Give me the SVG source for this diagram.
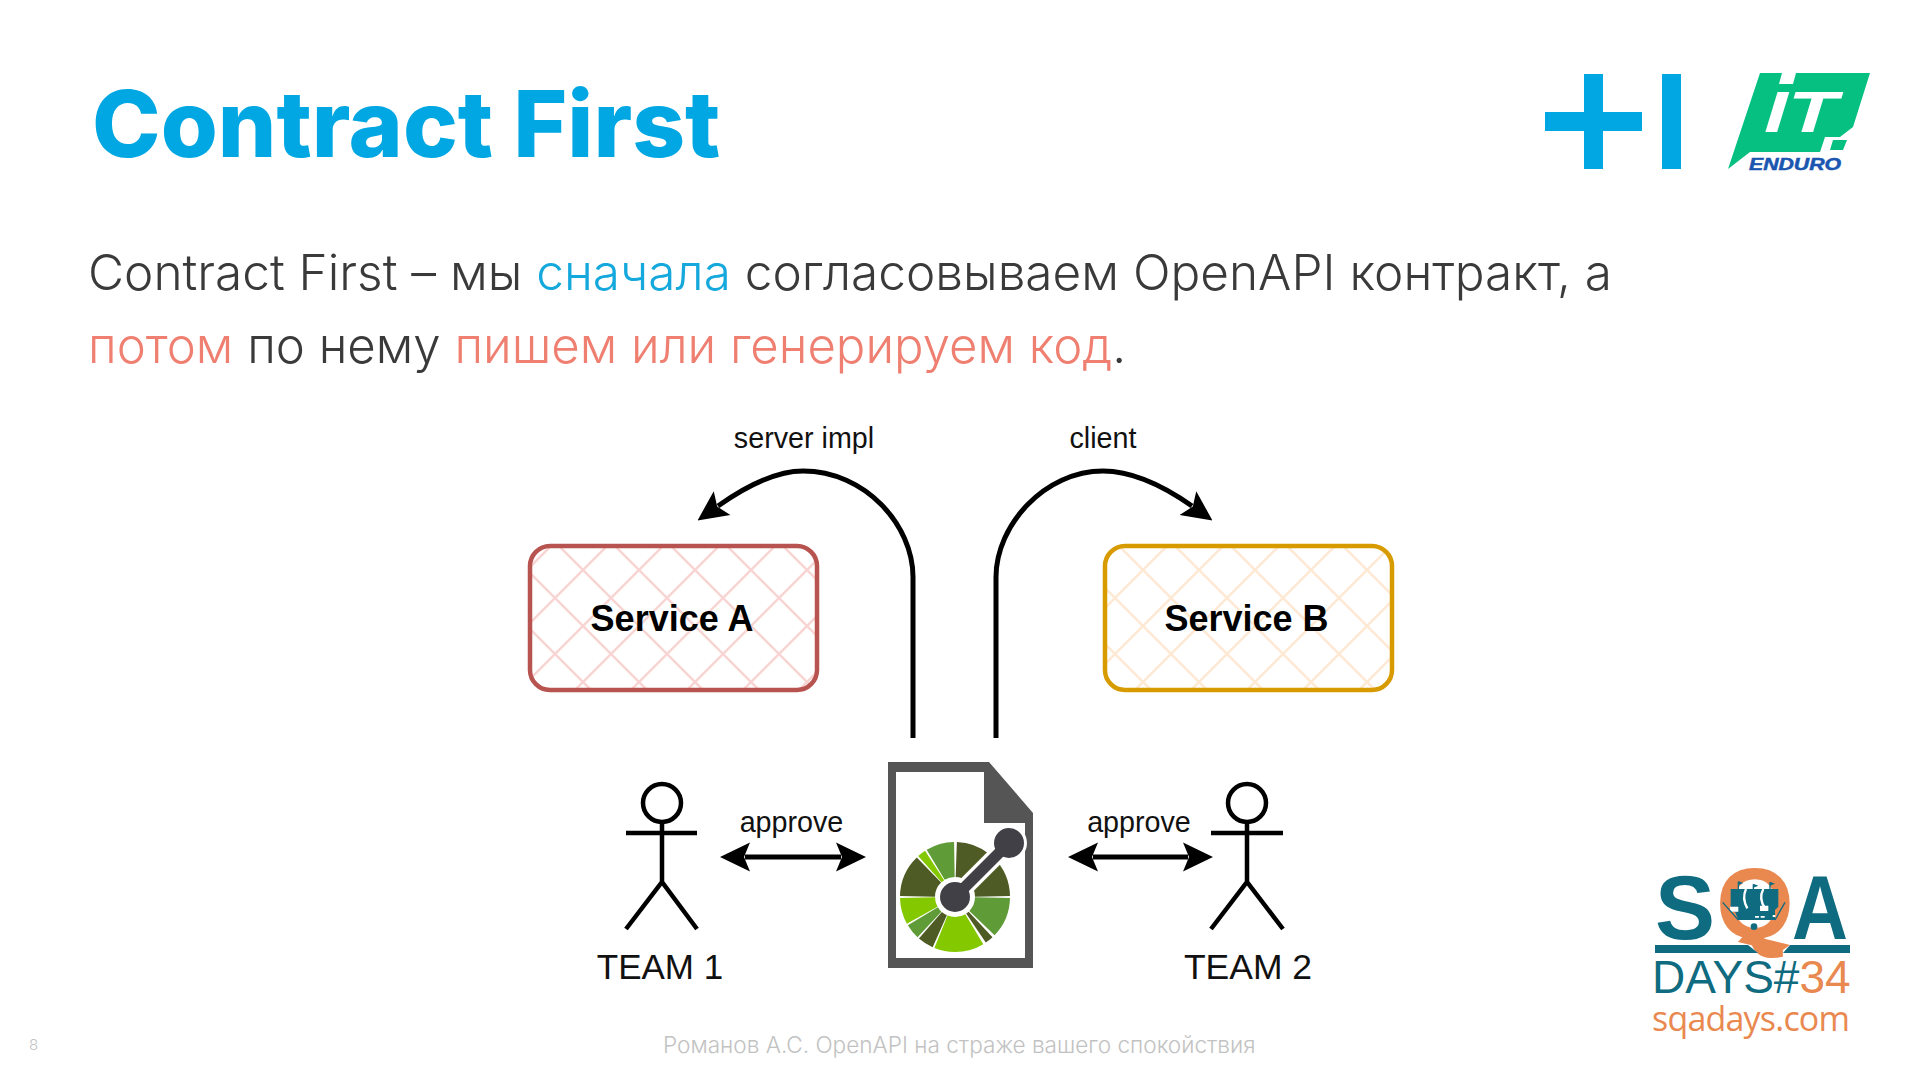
<svg xmlns="http://www.w3.org/2000/svg" width="1920" height="1080" viewBox="0 0 1920 1080">
<style>
.title{font:800 92.3px Inter,"Noto Sans",sans-serif;fill:#00a7e3}
.body{font:300 49.5px Inter,"Noto Sans",sans-serif;fill:#3a3a3a}
.body2{font-size:49.1px}
.blue{fill:#14a8dc}.red{fill:#ef7f70}
.foot{font:300 22.6px Inter,"Noto Sans",sans-serif;fill:#c2c2c2}
.lab{font:400 28.7px "Liberation Sans",Arial,sans-serif;fill:#111;text-anchor:middle}
.team{font:400 35px "Liberation Sans",Arial,sans-serif;fill:#111;text-anchor:middle}
.svc{font:700 36px "Liberation Sans",Arial,sans-serif;fill:#000;text-anchor:middle}
.conn{fill:none;stroke:#000;stroke-width:5}
.person{fill:none;stroke:#000;stroke-width:4.5}
.teal{fill:#0f6b80}.orange{fill:#e98950}
.seg{fill:none;stroke-width:35}
</style>
<defs>
<pattern id="hatchA" patternUnits="userSpaceOnUse" x="583" y="570" width="56" height="56"><path d="M0,0L56,56M56,0L0,56" stroke="#f8d5d3" stroke-width="2.5"/></pattern>
<pattern id="hatchB" patternUnits="userSpaceOnUse" x="1143" y="570" width="56" height="56"><path d="M0,0L56,56M56,0L0,56" stroke="#ffe9d3" stroke-width="2.5"/></pattern>
<marker id="head" markerUnits="userSpaceOnUse" markerWidth="30" markerHeight="30" refX="5" refY="15" orient="auto-start-reverse" viewBox="0 0 30 30"><path d="M30,15L0,0.5L6,15L0,29.5Z" fill="#000"/></marker>
</defs>
<rect width="1920" height="1080" fill="#fff"/>
<text class="title" x="92" y="157">Contract First</text>
<text class="body" x="88" y="290">Contract First – мы <tspan class="blue">сначала</tspan> согласовываем OpenAPI контракт, а</text>
<text class="body body2" x="88" y="363"><tspan class="red">потом</tspan> по нему <tspan class="red">пишем или генерируем код</tspan>.</text>

<g id="logo-plus" fill="#00a7e3"><rect x="1545" y="112" width="97" height="19"/><rect x="1584" y="74" width="19" height="95"/><rect x="1662" y="74" width="19" height="95"/></g>
<g id="logo-enduro">
<path d="M1760,73H1782L1779,84H1793L1796,73H1870L1853,127L1840,137H1825L1820,152H1750L1728,169Z" fill="#05c080"/>
<path d="M1833,140H1847L1843,150H1830Z" fill="#05c080"/>
<text transform="translate(1760,132) skewX(-17)" font-family="Liberation Sans,sans-serif" font-weight="700" font-size="58" fill="#fff" textLength="72" lengthAdjust="spacingAndGlyphs">IT</text>
<text x="1749" y="170" font-family="Liberation Sans,sans-serif" font-weight="700" font-style="italic" font-size="16.5" fill="#1a56b0" stroke="#1a56b0" stroke-width=".5" textLength="92" lengthAdjust="spacingAndGlyphs">ENDURO</text>
</g>

<g id="connectors">
<path class="conn" d="M913,738V577C913,525 865,471 803,471C775,471 745,487 718,506" marker-end="url(#head)"/>
<path class="conn" d="M996,738V577C996,525 1045,471 1103,471C1135,471 1165,487 1192,506" marker-end="url(#head)"/>
<path class="conn" d="M745,857H841" marker-start="url(#head)" marker-end="url(#head)"/>
<path class="conn" d="M1093,857H1188" marker-start="url(#head)" marker-end="url(#head)"/>
<text class="lab" x="804" y="448">server impl</text>
<text class="lab" x="1103" y="448">client</text>
<text class="lab" x="791.5" y="832">approve</text>
<text class="lab" x="1139" y="832">approve</text>
</g>

<g id="service-a"><rect x="530" y="546" width="287" height="144" rx="20" fill="url(#hatchA)" stroke="#b85450" stroke-width="4.5"/><text class="svc" x="672" y="631">Service A</text></g>
<g id="service-b"><rect x="1105" y="546" width="287" height="144" rx="20" fill="url(#hatchB)" stroke="#d79b00" stroke-width="4.5"/><text class="svc" x="1246.5" y="631">Service B</text></g>

<g id="team-1"><circle class="person" cx="662" cy="803" r="19"/><path class="person" d="M662,822V882M626,833H697M626,929L662,882L697,929"/><text class="team" x="660" y="979">TEAM 1</text></g>
<g id="team-2"><circle class="person" cx="1247" cy="803" r="19"/><path class="person" d="M1247,822V882M1211,833H1283M1211,929L1247,882L1283,929"/><text class="team" x="1248" y="979" style="font-size:35.5px">TEAM 2</text></g>

<g id="openapi-doc">
<path d="M888,762H989L1033,813V968H888ZM896,772V958H1025V823H984V772Z" fill="#555" fill-rule="evenodd"/>
<g transform="rotate(-90 955 897)">
<circle class="seg" cx="955" cy="897" r="37.5" pathLength="360" stroke="#4f5b24" stroke-dasharray="37 360" stroke-dashoffset="-2"/>
<circle class="seg" cx="955" cy="897" r="37.5" pathLength="360" stroke="#4f5b24" stroke-dasharray="44 360" stroke-dashoffset="-45"/>
<circle class="seg" cx="955" cy="897" r="37.5" pathLength="360" stroke="#5f9b36" stroke-dasharray="43 360" stroke-dashoffset="-91"/>
<circle class="seg" cx="955" cy="897" r="37.5" pathLength="360" stroke="#4f5b24" stroke-dasharray="9 360" stroke-dashoffset="-137"/>
<circle class="seg" cx="955" cy="897" r="37.5" pathLength="360" stroke="#84c800" stroke-dasharray="53 360" stroke-dashoffset="-149"/>
<circle class="seg" cx="955" cy="897" r="37.5" pathLength="360" stroke="#4f5b24" stroke-dasharray="17 360" stroke-dashoffset="-204"/>
<circle class="seg" cx="955" cy="897" r="37.5" pathLength="360" stroke="#5f9b36" stroke-dasharray="16 360" stroke-dashoffset="-223"/>
<circle class="seg" cx="955" cy="897" r="37.5" pathLength="360" stroke="#84c800" stroke-dasharray="28 360" stroke-dashoffset="-241"/>
<circle class="seg" cx="955" cy="897" r="37.5" pathLength="360" stroke="#4f5b24" stroke-dasharray="45 360" stroke-dashoffset="-271"/>
<circle class="seg" cx="955" cy="897" r="37.5" pathLength="360" stroke="#84c800" stroke-dasharray="9 360" stroke-dashoffset="-318"/>
<circle class="seg" cx="955" cy="897" r="37.5" pathLength="360" stroke="#5f9b36" stroke-dasharray="30 360" stroke-dashoffset="-329"/>
</g>
<path d="M955,897L1009,843" stroke="#fff" stroke-width="18"/>
<circle cx="955" cy="897" r="19" fill="#fff"/><circle cx="1009" cy="843" r="18" fill="#fff"/>
<path d="M955,897L1009,843" stroke="#404046" stroke-width="11"/>
<circle cx="955" cy="897" r="15" fill="#404046"/><circle cx="1009" cy="843" r="15" fill="#404046"/>
</g>

<g id="logo-sqa">
<text class="teal" x="1655" y="939" font-family="Liberation Sans,sans-serif" font-weight="700" font-size="90">S</text>
<text class="orange" x="1716" y="938" font-family="Liberation Sans,sans-serif" font-weight="700" font-size="100">Q</text>
<text class="teal" x="1792" y="939" font-family="Liberation Sans,sans-serif" font-weight="700" font-size="90" textLength="56" lengthAdjust="spacingAndGlyphs">A</text>
<path class="teal" d="M1655,945H1748L1758,953H1655ZM1790,945H1850V953H1783Z"/>
<path class="orange" d="M1745,934L1790,945L1780,952L1738,942Z"/>
<g transform="translate(1710,865) scale(.3333)">
<path class="teal" d="M62,72H205V125L195,135V165H85L75,140H62Z"/>
<path d="M108,72Q95,100 112,130M160,72Q145,100 165,130" fill="none" stroke="#fff" stroke-width="7"/>
<path d="M60,125H85V140H60ZM150,122H175V138H150ZM135,153H147V158H135ZM152,153H164V158H152ZM188,150H196V156H188Z" fill="#fff"/>
<path class="teal" d="M85,50V72M130,58V72M180,52V72M38,112L85,165M225,112L195,165" stroke="#0f6b80" stroke-width="4" fill="none"/>
<path class="teal" d="M85,48L100,54L85,60ZM130,56L145,62L130,68ZM180,50L195,56L180,62Z"/>
<circle class="teal" cx="132" cy="185" r="10"/>
</g>
<text class="teal" x="1652" y="993" font-family="Liberation Sans,sans-serif" font-size="46">DAYS#<tspan class="orange">34</tspan></text>
<text class="orange" x="1652" y="1031" font-family="Open Sans,sans-serif" font-size="34" textLength="198">sqadays.com</text>
</g>

<g id="footer"><text class="foot" x="29" y="1050" style="font-size:15px">8</text><text class="foot" x="663" y="1053">Романов А.С. OpenAPI на страже вашего спокойствия</text></g>
</svg>
